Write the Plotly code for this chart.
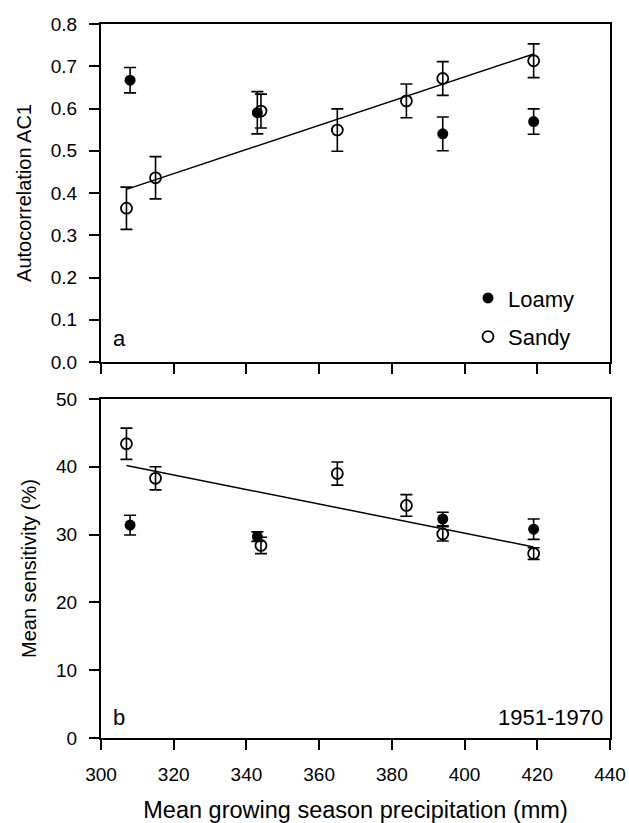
import numpy as np
import plotly.graph_objects as go

# ---- data ----
x_loamy = [308, 343, 394, 419]
x_sandy = [307, 315, 344, 365, 384, 394, 419]

ac1_loamy = [0.667, 0.590, 0.540, 0.569]
ac1_loamy_err = [0.030, 0.050, 0.040, 0.030]
ac1_sandy = [0.364, 0.436, 0.594, 0.549, 0.618, 0.671, 0.713]
ac1_sandy_err = [0.050, 0.050, 0.040, 0.050, 0.040, 0.040, 0.040]

ms_loamy = [31.4, 29.7, 32.3, 30.8]
ms_loamy_err = [1.45, 0.7, 1.0, 1.5]
ms_sandy = [43.4, 38.3, 28.4, 39.0, 34.3, 30.1, 27.2]
ms_sandy_err = [2.3, 1.7, 1.2, 1.7, 1.6, 1.05, 0.85]

x_ticks = [300, 320, 340, 360, 380, 400, 420, 440]

FONT = "Liberation Sans, Arial, sans-serif"
BLACK = "black"


def fit_line(xs, ys):
    k, b = np.polyfit(xs, ys, 1)
    xf = np.array([min(xs), max(xs)], dtype=float)
    return xf, k * xf + b


fig = go.Figure()


def add_panel(xa, ya, yl, yl_err, ys, ys_err, show_legend):
    err_style = dict(type="data", color=BLACK, thickness=1.6, width=6)
    fig.add_trace(go.Scatter(
        x=x_loamy, y=yl, mode="markers", name="Loamy",
        xaxis=xa, yaxis=ya, showlegend=show_legend, legendgroup="loamy",
        marker=dict(symbol="circle", size=11, color=BLACK),
        error_y=dict(array=yl_err, **err_style),
    ))
    fig.add_trace(go.Scatter(
        x=x_sandy, y=ys, mode="markers", name="Sandy",
        xaxis=xa, yaxis=ya, showlegend=show_legend, legendgroup="sandy",
        marker=dict(symbol="circle-open", size=11, color=BLACK,
                    line=dict(width=1.8, color=BLACK)),
        error_y=dict(array=ys_err, **err_style),
    ))
    xf, yf = fit_line(x_sandy, ys)
    fig.add_trace(go.Scatter(
        x=xf, y=yf, mode="lines", xaxis=xa, yaxis=ya, showlegend=False,
        line=dict(color=BLACK, width=1.5),
    ))


add_panel("x", "y", ac1_loamy, ac1_loamy_err, ac1_sandy, ac1_sandy_err, True)
add_panel("x2", "y2", ms_loamy, ms_loamy_err, ms_sandy, ms_sandy_err, False)

axis_common = dict(
    showline=True, linecolor=BLACK, linewidth=2, mirror=True,
    ticks="outside", ticklen=10, tickwidth=1.5, tickcolor=BLACK,
    showgrid=False, zeroline=False, automargin=False,
    tickfont=dict(family=FONT, size=19, color=BLACK),
)

fig.update_layout(
    width=629, height=823,
    margin=dict(l=101, r=19, t=24, b=85),
    paper_bgcolor="white", plot_bgcolor="white",
    font=dict(family=FONT, color=BLACK),
    xaxis=dict(domain=[0, 1], anchor="y", range=[300, 440],
               tickvals=x_ticks, showticklabels=False, **axis_common),
    yaxis=dict(domain=[0.5266, 1], anchor="x", range=[0, 0.8], dtick=0.1,
               tickformat=".1f", ticklabelstandoff=8,
               title=dict(text="Autocorrelation AC1",
                          font=dict(family=FONT, size=20, color=BLACK),
                          standoff=14),
               **axis_common),
    xaxis2=dict(domain=[0, 1], anchor="y2", range=[300, 440],
                tickvals=x_ticks, ticklabelstandoff=8,
                title=dict(text="Mean growing season precipitation (mm)",
                           font=dict(family=FONT, size=23.5, color=BLACK),
                           standoff=19),
                **axis_common),
    yaxis2=dict(domain=[0, 0.4748], anchor="x2", range=[0, 50], dtick=10,
                ticklabelstandoff=8,
                title=dict(text="Mean sensitivity (%)",
                           font=dict(family=FONT, size=20, color=BLACK),
                           standoff=14),
                **axis_common),
    legend=dict(x=0.721, y=0.6454, xanchor="left", yanchor="top",
                traceorder="grouped", tracegroupgap=7,
                bgcolor="rgba(0,0,0,0)",
                font=dict(family=FONT, size=22, color=BLACK)),
    annotations=[
        dict(text="a", x=0.02, y=0.07, xref="x domain", yref="y domain",
             xanchor="left", yanchor="middle", showarrow=False,
             font=dict(family=FONT, size=22, color=BLACK)),
        dict(text="b", x=0.02, y=0.06, xref="x2 domain", yref="y2 domain",
             xanchor="left", yanchor="middle", showarrow=False,
             font=dict(family=FONT, size=22, color=BLACK)),
        dict(text="1951-1970", x=0.99, y=0.06, xref="x2 domain", yref="y2 domain",
             xanchor="right", yanchor="middle", showarrow=False,
             font=dict(family=FONT, size=22, color=BLACK)),
    ],
)

fig.write_html(
    "out.html",
    config={"displayModeBar": False},
    post_script="document.body.style.margin='0px';document.body.style.padding='0px';",
)
